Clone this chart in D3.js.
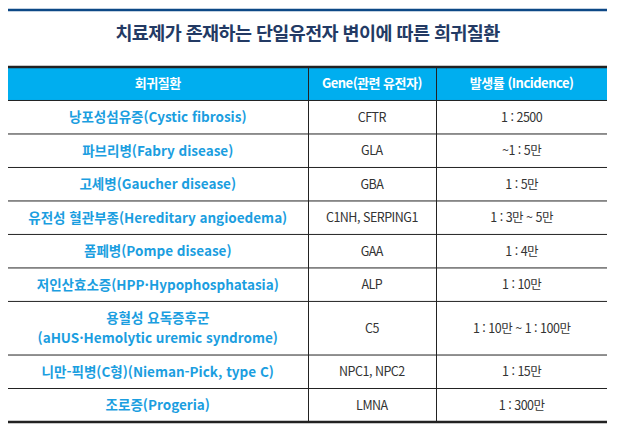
<!doctype html>
<html lang="ko">
  <head>
    <meta charset="UTF-8">
    <title>치료제가 존재하는 단일유전자 변이에 따른 희귀질환</title>
    <style>
      body { margin: 0; background: #fff; }
      svg { display: block; }
      .title { font: bold 18.5px "Noto Sans CJK KR", sans-serif; fill: #233a64; text-anchor: middle; letter-spacing: -0.6px; }
      .head { font: bold 13px "Noto Sans CJK KR", sans-serif; fill: #fff; text-anchor: middle; letter-spacing: -0.5px; }
      .disease { font: bold 13.5px "Noto Sans CJK KR", sans-serif; fill: #1b9ee0; text-anchor: middle; letter-spacing: 0px; }
      .cell { font: 12.5px "Noto Sans CJK KR", sans-serif; fill: #333; text-anchor: middle; letter-spacing: -0.5px; }
    </style>
  </head>
  <body>
    <svg width="621" height="444"></svg>
    <script src="https://d3js.org/d3.v7.min.js"></script>
    <script>
      var title = "치료제가 존재하는 단일유전자 변이에 따른 희귀질환";
      var headers = ["회귀질환", "Gene(관련 유전자)", "발생률 (Incidence)"];

      var diseases = [
        ["낭포성섬유증(Cystic fibrosis)"],
        ["파브리병(Fabry disease)"],
        ["고셰병(Gaucher disease)"],
        ["유전성 혈관부종(Hereditary angioedema)"],
        ["폼페병(Pompe disease)"],
        ["저인산효소증(HPP·Hypophosphatasia)"],
        ["용혈성 요독증후군", "(aHUS·Hemolytic uremic syndrome)"],
        ["니만-픽병(C형)(Nieman-Pick, type C)"],
        ["조로증(Progeria)"]
      ];
      var genes = ["CFTR", "GLA", "GBA", "C1NH, SERPING1", "GAA", "ALP", "C5", "NPC1, NPC2", "LMNA"];
      var incidence = ["1 : 2500", "~1 : 5만", "1 : 5만", "1 : 3만 ~ 5만", "1 : 4만", "1 : 10만",
                       "1 : 10만 ~ 1 : 100만", "1 : 15만", "1 : 300만"];

      var svg = d3.select("svg");
      var tLeft = 8, tRight = 607, tTop = 67, tBottom = 422;

      // column boundaries in share of table width
      var colEdges = [0, 0.5, 0.715, 1];
      var x = d3.scaleLinear().domain([0, 1]).range([tLeft, tRight]);

      // row heights in line units (header first)
      var units = [1].concat(diseases.map(function (d) { return d.length > 1 ? 1.6 : 1; }));
      var cum = [0];
      units.forEach(function (u, i) { cum.push(cum[i] + u); });
      var y = d3.scaleLinear().domain([0, cum[cum.length - 1]]).range([tTop, tBottom]);

      // top rule and title
      svg.append("line")
        .attr("x1", tLeft).attr("x2", tRight)
        .attr("y1", 10).attr("y2", 10)
        .attr("stroke", "#0d4886").attr("stroke-width", 2.5);

      svg.append("text").attr("class", "title")
        .attr("x", (tLeft + tRight) / 2).attr("y", 40)
        .text(title);

      // header background
      svg.append("rect")
        .attr("x", tLeft).attr("y", y(0))
        .attr("width", tRight - tLeft).attr("height", y(1) - y(0))
        .attr("fill", "#00aeef");

      svg.selectAll(".head").data(headers).join("text")
        .attr("class", "head")
        .attr("x", function (d, i) { return x((colEdges[i] + colEdges[i + 1]) / 2); })
        .attr("y", (y(0) + y(1)) / 2 + 4.5)
        .text(function (d) { return d; });

      // horizontal rules
      svg.selectAll(".hrule").data(cum).join("line")
        .attr("class", "hrule")
        .attr("x1", tLeft).attr("x2", tRight)
        .attr("y1", function (d) { return y(d); })
        .attr("y2", function (d) { return y(d); })
        .attr("stroke", "#222")
        .attr("stroke-width", function (d, i) { return i === 0 || i === cum.length - 1 ? 2.5 : 1; });

      // column dividers
      svg.selectAll(".vrule").data(colEdges.slice(1, -1)).join("line")
        .attr("class", "vrule")
        .attr("x1", function (d) { return Math.round(x(d)) + 0.5; })
        .attr("x2", function (d) { return Math.round(x(d)) + 0.5; })
        .attr("y1", y(0)).attr("y2", tBottom)
        .attr("stroke", "#222").attr("stroke-width", 1);

      // body rows
      var rows = svg.selectAll(".row").data(diseases).join("g")
        .attr("class", "row")
        .attr("transform", function (d, i) {
          return "translate(0," + (y(cum[i + 1]) + y(cum[i + 2])) / 2 + ")";
        });

      rows.each(function (d, i) {
        var g = d3.select(this);
        var n = d.length;
        d.forEach(function (line, j) {
          g.append("text").attr("class", "disease")
            .attr("x", x((colEdges[0] + colEdges[1]) / 2))
            .attr("y", 5 + (j - (n - 1) / 2) * 20)
            .text(line);
        });
        g.append("text").attr("class", "cell")
          .attr("x", x((colEdges[1] + colEdges[2]) / 2))
          .attr("y", 4.5)
          .text(genes[i]);
        g.append("text").attr("class", "cell")
          .attr("x", x((colEdges[2] + colEdges[3]) / 2))
          .attr("y", 4.5)
          .text(incidence[i]);
      });
    </script>
  </body>
</html>
